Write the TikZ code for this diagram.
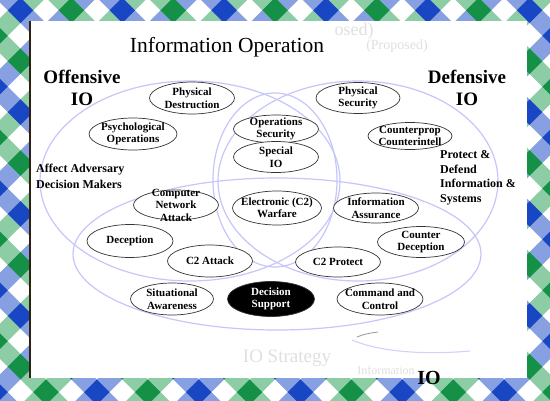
\documentclass[tikz,border=0pt]{standalone}
\usepackage{fontspec}
\setmainfont{Liberation Serif}
\usetikzlibrary{shapes.geometric}
\definecolor{dkblue}{RGB}{25,70,195}
\definecolor{ltblue}{RGB}{135,160,225}
\definecolor{dkgreen}{RGB}{20,145,70}
\definecolor{ltgreen}{RGB}{140,205,165}
\definecolor{venn}{RGB}{198,198,250}

\begin{document}
\begin{tikzpicture}[x=1pt,y=-1pt,
  io/.style={ellipse,draw=black!80,fill=white,line width=0.7pt,inner sep=0pt},
  txt/.style={font=\fontsize{11}{12.5}\selectfont\bfseries,align=center,inner sep=0pt},
  big/.style={draw=venn,line width=1.2pt},
  side/.style={font=\fontsize{12}{14.5}\selectfont\bfseries,align=left,inner sep=0pt,anchor=west},
  head/.style={font=\fontsize{19}{22}\selectfont\bfseries,align=center,inner sep=0pt},
  ghost/.style={text=black!12,inner sep=0pt}]
  \useasboundingbox (0,0) rectangle (550,400);
  \begin{scope}
    \clip (0,0) rectangle (550,400);
    \begin{scope}[shift={(300.5,188.5)},rotate=45]
      \foreach \a in {-10,...,10} {
        \ifodd\a\relax \def\lc{ltgreen}\else\def\lc{ltblue}\fi
        \fill[\lc] (\a*36-9,-400) rectangle (\a*36+9,400);
        \fill[\lc] (-400,\a*36-9) rectangle (400,\a*36+9);
      }
      \foreach \a in {-10,...,10} \foreach \b in {-10,...,10} {
        \ifodd\a\relax \def\dc{dkgreen}\else\def\dc{dkblue}\fi
        \fill[\dc] (\a*36-9,\b*36-9) rectangle +(18,18);
      }
    \end{scope}
  \end{scope}
  \fill[white] (30,21) rectangle (527,378);
  \draw[black!75!brown,line width=1.2pt] (30,21) -- (30,378);

  \node[ghost,font=\fontsize{18}{18}\selectfont] (gh1) at (354,31) {osed)};
  \node[ghost,font=\fontsize{14}{14}\selectfont] (gh2) at (397,46) {(Proposed)};
  \node[inner sep=0pt,anchor=base,font=\fontsize{21.5}{24}\selectfont] (title) at (227,52) {Information Operation};

  \draw[big] (190,181) ellipse [x radius=150,y radius=100];
  \draw[big] (358,181) ellipse [x radius=140,y radius=100];
  \draw[big] (275,180) ellipse [x radius=62,y radius=87];
  \draw[big] (277,254) ellipse [x radius=204,y radius=76];

  \node[head] (off) at (82,88) {Offensive\\IO};
  \node[head] (def) at (467,88) {Defensive\\IO};
  \node[side,font=\fontsize{12}{16}\selectfont\bfseries] (aff) at (36,176) {Affect Adversary\\Decision Makers};
  \node[side] (prot) at (440,178) {Protect \&\\Defend\\Information \&\\Systems};

  \foreach \n/\x/\y/\w/\h/\t in {
    pd/192/98/85/32/{Physical\\Destruction},
    ps/358/98/84/31/{Physical\\Security},
    po/133/134/88/32/{Psychological\\Operations},
    os/276/129/85/28/{Operations\\Security},
    cc/410/136/84/27/{Counterprop\\Counterintell},
    sio/276/157/85/31/{Special\\IO},
    cna/176/205/85/30/{Computer\\Network\\Attack},
    ew/277/208/89/34/{Electronic (C2)\\Warfare},
    ia/376/208/85/30/{Information\\Assurance},
    dec/130/241/86/33/{Deception},
    cd/421/242/87/31/{Counter\\Deception},
    c2a/210/261/85/32/{C2 Attack},
    c2p/338/262/85/30/{C2 Protect},
    sa/172/299/83/32/{Situational\\Awareness},
    cac/380/299/86/32/{Command and\\Control}} {
    \node[io,minimum width=\w pt,minimum height=\h pt] (\n) at (\x,\y) {};
    \node[txt] at (\n) {\t};
  }
  \node[io,fill=black,minimum width=87pt,minimum height=35pt] (ds) at (271,299) {};
  \node[txt,text=white] at (ds) {Decision\\Support};

  \draw[venn!80,line width=1.1pt] (352,340) .. controls (380,352) and (425,355) .. (470,351);
  \draw[black!40,line width=0.8pt] (357,337) .. controls (364,334) and (370,333) .. (378,332);
  \node[ghost,font=\fontsize{19}{19}\selectfont] (gh3) at (287,358) {IO Strategy};
  \node[ghost,font=\fontsize{12}{12}\selectfont] (gh4) at (386,370) {Information};
  \node[inner sep=0pt,font=\fontsize{20}{20}\selectfont\bfseries] (io) at (429,378) {IO};
\end{tikzpicture}
\end{document}
